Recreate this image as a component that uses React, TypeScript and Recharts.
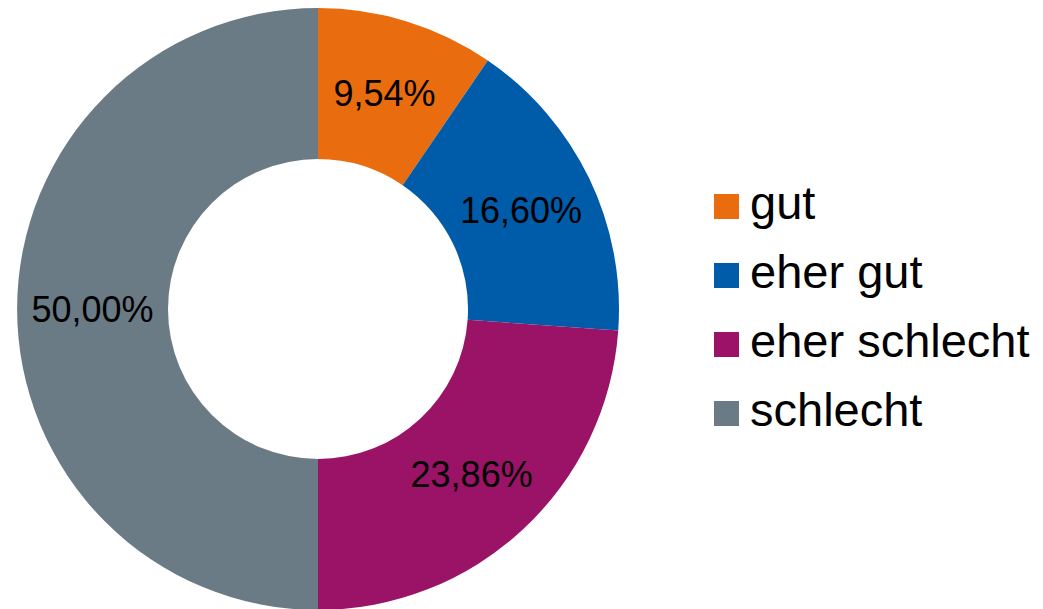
import React from 'react';
import { PieChart, Pie, Cell, Legend } from 'recharts';

const categories = ['gut', 'eher gut', 'eher schlecht', 'schlecht'];
const shares = [9.54, 16.6, 23.86, 50.0];
const colors = ['#E96C0E', '#005CA9', '#9B1366', '#6B7B85'];

const data = categories.map((name, i) => ({ name, value: shares[i] }));

const FONT = '"Liberation Sans", Arial, sans-serif';
const RAD = Math.PI / 180;

const renderLabel = (props: any) => {
  const { cx, cy, midAngle, innerRadius, outerRadius, value } = props;
  const r = (innerRadius + outerRadius) / 2;
  const x = cx + r * Math.cos(-midAngle * RAD);
  const y = cy + r * Math.sin(-midAngle * RAD);
  return (
    <text
      x={x}
      y={y}
      fill="#000"
      fontSize={36}
      fontFamily={FONT}
      textAnchor="middle"
      dominantBaseline="central"
    >
      {value.toFixed(2).replace('.', ',')}%
    </text>
  );
};

const renderLegend = () => (
  <div style={{ fontFamily: FONT }}>
    {categories.map((name, i) => (
      <div key={name} style={{ display: 'flex', alignItems: 'center', height: 69 }}>
        <span style={{ width: 25, height: 25, background: colors[i], marginRight: 11, flexShrink: 0 }} />
        <span style={{ fontSize: 47, lineHeight: 1, color: '#000', position: 'relative', top: -4, whiteSpace: 'nowrap' }}>
          {name}
        </span>
      </div>
    ))}
  </div>
);

export default function App() {
  return (
    <div style={{ position: 'absolute', left: 0, top: 0, width: 1043, height: 609, background: '#fff' }}>
      <PieChart width={1043} height={609} margin={{ top: 0, right: 0, bottom: 0, left: 0 }}>
        <Pie
          data={data}
          dataKey="value"
          nameKey="name"
          cx={318}
          cy={309}
          innerRadius={150}
          outerRadius={301}
          startAngle={90}
          endAngle={-270}
          stroke="none"
          label={renderLabel}
          labelLine={false}
          isAnimationActive={false}
        >
          {data.map((d, i) => (
            <Cell key={d.name} fill={colors[i]} />
          ))}
        </Pie>
        <Legend
          content={renderLegend}
          wrapperStyle={{ left: 714, top: 172, width: 329, bottom: 'auto', right: 'auto' }}
        />
      </PieChart>
    </div>
  );
}
